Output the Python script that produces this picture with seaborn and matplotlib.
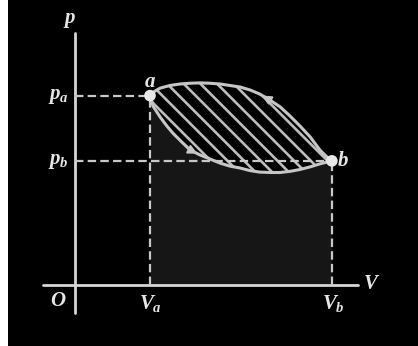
import numpy as np
import matplotlib
matplotlib.use("Agg")
import matplotlib.pyplot as plt
import seaborn as sns

# state points (arbitrary units)
Va, pa = 2.0, 5.05
Vb, pb = 6.85, 3.31

# upper branch (b -> a)
upper_V = [2.0, 2.13, 2.27, 2.53, 2.80, 3.07, 3.33, 3.60, 3.87, 4.13, 4.40,
           4.67, 4.93, 5.20, 5.47, 5.73, 6.00, 6.27, 6.53, 6.69, 6.85]
upper_p = [5.05, 5.17, 5.25, 5.32, 5.36, 5.38, 5.39, 5.38, 5.36, 5.32, 5.28,
           5.20, 5.09, 4.93, 4.75, 4.51, 4.24, 3.95, 3.60, 3.44, 3.31]

# lower branch (a -> b)
lower_V = [2.0, 2.08, 2.27, 2.45, 2.61, 2.85, 3.07, 3.33, 3.60, 3.87, 4.13,
           4.40, 4.67, 4.93, 5.20, 5.47, 5.73, 6.00, 6.27, 6.53, 6.85]
lower_p = [5.05, 4.77, 4.48, 4.24, 4.05, 3.81, 3.60, 3.47, 3.36, 3.25, 3.17,
           3.12, 3.05, 3.01, 3.00, 3.00, 3.03, 3.08, 3.15, 3.23, 3.31]

point_labels = ["a", "b"]

sns.set_theme(style="dark")
plt.rcParams["mathtext.fontset"] = "custom"
plt.rcParams["mathtext.it"] = "Liberation Serif:bold:italic"
plt.rcParams["mathtext.rm"] = "Liberation Serif:bold"
plt.rcParams["hatch.linewidth"] = 1.9

fg = "#d6d6d6"
curve_col = "#c6c6c6"

fig = plt.figure(figsize=(4.18, 3.46), dpi=100, facecolor="white")
ax = fig.add_axes([8 / 418, 0, 410 / 418, 1])
ax.set_facecolor("black")
ax.set_xlim(-1.787, 9.147)
ax.set_ylim(-1.627, 7.6)
ax.set_xticks([])
ax.set_yticks([])
ax.grid(False)
for sp in ax.spines.values():
    sp.set_visible(False)

# work area under the lower branch
ax.fill_between(lower_V, lower_p, 0, color="#161616", linewidth=0, zorder=1)

# hatched cycle area
cyc_V = np.concatenate([upper_V, lower_V[::-1]])
cyc_p = np.concatenate([upper_p, lower_p[::-1]])
ax.fill(cyc_V, cyc_p, facecolor="black", edgecolor="#bdbdbd", linewidth=0,
        hatch="\\\\", zorder=2)

# axes
ax.plot([0, 0], [-0.75, 6.72], color=fg, lw=2, zorder=3)
ax.plot([-0.85, 7.55], [0, 0], color=fg, lw=2, zorder=3)

# dashed guides
dash = dict(color="#c8c8c8", lw=1.6, ls=(0, (3.8, 1.9)), zorder=3)
ax.plot([0, Va], [pa, pa], **dash)
ax.plot([0, Vb], [pb, pb], **dash)
ax.plot([Va, Va], [0, pa], **dash)
ax.plot([Vb, Vb], [0, pb], **dash)

# cycle branches
sns.lineplot(x=upper_V, y=upper_p, color=curve_col, lw=2.2, sort=False,
             estimator=None, ax=ax, zorder=4)
sns.lineplot(x=lower_V, y=lower_p, color=curve_col, lw=2.2, sort=False,
             estimator=None, ax=ax, zorder=4)

# direction arrows
arr = dict(arrowstyle="-|>", color=curve_col, lw=1.5, mutation_scale=13)
ax.annotate("", xy=(upper_V[12], upper_p[12]), xytext=(upper_V[13], upper_p[13]),
            arrowprops=arr, zorder=5)
ax.annotate("", xy=(lower_V[7], lower_p[7]), xytext=(lower_V[6], lower_p[6]),
            arrowprops=arr, zorder=5)

# state points
sns.scatterplot(x=[Va, Vb], y=[pa, pb], color="#e8e8e8", s=70, edgecolor="none",
                ax=ax, zorder=6)

txt = dict(color="#e6e6e6", fontsize=15)
ax.text(-0.13, 7.07, r"$p$", ha="center", va="center", **txt)
ax.text(-0.16, pa, r"$p_a$", ha="right", va="center", **txt)
ax.text(-0.16, pb, r"$p_b$", ha="right", va="center", **txt)
ax.text(Va, pa + 0.38, r"$%s$" % point_labels[0], ha="center", va="center", **txt)
ax.text(Vb + 0.3, pb + 0.02, r"$%s$" % point_labels[1], ha="center", va="center", **txt)
ax.text(-0.45, -0.4, r"$O$", ha="center", va="center", **txt)
ax.text(Va + 0.02, -0.5, r"$V_a$", ha="center", va="center", **txt)
ax.text(Vb + 0.05, -0.5, r"$V_b$", ha="center", va="center", **txt)
ax.text(7.9, 0.05, r"$V$", ha="center", va="center", **txt)

fig.savefig("out.png", dpi=100, facecolor="white")
